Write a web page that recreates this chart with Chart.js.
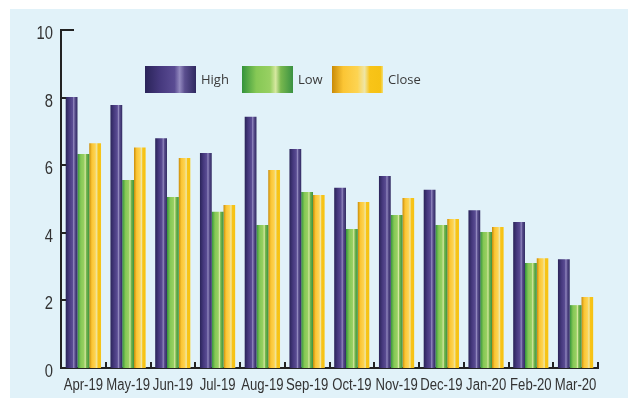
<!DOCTYPE html>
<html>
<head>
<meta charset="utf-8">
<script src="https://cdn.jsdelivr.net/npm/chart.js@4/dist/chart.umd.min.js"></script>
<style>
  html, body { margin: 0; padding: 0; background: #ffffff; }
  #wrap { width: 628px; height: 398px; position: relative; }
</style>
</head>
<body>
<div id="wrap"><canvas id="chart" width="628" height="398"></canvas></div>
<script>
// Monthly price range: high, low and close
const categories = ['Apr-19', 'May-19', 'Jun-19', 'Jul-19', 'Aug-19', 'Sep-19', 'Oct-19', 'Nov-19', 'Dec-19', 'Jan-20', 'Feb-20', 'Mar-20'];
const highValues  = [8.02, 7.78, 6.80, 6.36, 7.43, 6.48, 5.33, 5.68, 5.27, 4.67, 4.32, 3.22];
const lowValues   = [6.33, 5.56, 5.06, 4.62, 4.23, 5.21, 4.11, 4.53, 4.23, 4.02, 3.11, 1.86];
const closeValues = [6.65, 6.52, 6.21, 4.82, 5.86, 5.12, 4.91, 5.03, 4.41, 4.17, 3.25, 2.10];
const yTickValues = [0, 2, 4, 6, 8, 10];

// Cylinder-like horizontal shading for each series
const shades = {
  High:  [[0, '#2a2459'], [0.3, '#46397e'], [0.58, '#5a4c93'], [0.68, '#938abf'], [0.78, '#5a4e8e'], [1, '#2f2960']],
  Low:   [[0, '#33933b'], [0.28, '#86c855'], [0.55, '#98d062'], [0.66, '#d6e8a0'], [0.76, '#78b84e'], [1, '#3a9242']],
  Close: [[0, '#c98b08'], [0.22, '#fbc534'], [0.5, '#fdd452'], [0.64, '#efe6a6'], [0.74, '#f8c418'], [0.95, '#f6c214'], [1, '#f1df78']]
};

function shadeFill(ctx, left, right, name) {
  const g = ctx.createLinearGradient(left, 0, right, 0);
  shades[name].forEach(([o, c]) => g.addColorStop(o, c));
  return g;
}

const panelBackground = {
  id: 'panelBackground',
  beforeDraw(chart) {
    const c = chart.ctx;
    c.save();
    c.fillStyle = '#e1f2f9';
    c.fillRect(10, 9, chart.width - 10, chart.height - 9);
    c.restore();
  }
};

// Give every bar its own gradient once positions are known
const barShading = {
  id: 'barShading',
  afterDatasetsUpdate(chart) {
    chart.data.datasets.forEach((ds, i) => {
      chart.getDatasetMeta(i).data.forEach(el => {
        const left = el.x - el.width / 2;
        const right = el.x + el.width / 2;
        el.options = Object.assign({}, el.options, { backgroundColor: shadeFill(chart.ctx, left, right, ds.label) });
      });
    });
  }
};

// Inward tick marks on both axes
const axisTicks = {
  id: 'axisTicks',
  afterDraw(chart) {
    const c = chart.ctx;
    const y = chart.scales.y;
    const area = chart.chartArea;
    c.save();
    c.strokeStyle = '#222222';
    c.lineWidth = 2;
    yTickValues.forEach(v => {
      if (v === 0) return;
      const py = Math.round(y.getPixelForValue(v));
      const len = v === yTickValues[yTickValues.length - 1] ? 13 : 5;
      c.beginPath();
      c.moveTo(area.left, py);
      c.lineTo(area.left + len, py);
      c.stroke();
    });
    const step = (area.right - area.left) / categories.length;
    for (let i = 1; i <= categories.length; i++) {
      const px = Math.round(area.left + i * step);
      c.beginPath();
      c.moveTo(px, area.bottom);
      c.lineTo(px, area.bottom - 6);
      c.stroke();
    }
    c.restore();
  }
};

// Narrow (horizontally compressed) tick labels taken from the scales' own ticks
const narrowLabels = {
  id: 'narrowLabels',
  afterDraw(chart) {
    const c = chart.ctx;
    const xs = chart.scales.x, ys = chart.scales.y;
    const area = chart.chartArea;
    const squeeze = 0.82;
    c.save();
    c.fillStyle = '#333333';
    c.textBaseline = 'alphabetic';

    c.font = '16px "Liberation Sans", Arial, sans-serif';
    c.textAlign = 'center';
    xs.ticks.forEach((t, i) => {
      const px = xs.getPixelForTick(i);
      c.save();
      c.translate(px, area.bottom + 22);
      c.scale(squeeze, 1);
      c.fillText(xs.getLabelForValue(t.value), 0, 0);
      c.restore();
    });

    c.font = '18px "Liberation Sans", Arial, sans-serif';
    c.textAlign = 'right';
    ys.ticks.forEach(t => {
      const py = ys.getPixelForValue(t.value);
      c.save();
      c.translate(area.left - 8, py + 9);
      c.scale(squeeze, 1);
      c.fillText(String(t.value), 0, 0);
      c.restore();
    });
    c.restore();
  }
};

// Legend drawn inside the plot
const innerLegend = {
  id: 'innerLegend',
  afterDraw(chart) {
    const c = chart.ctx;
    const starts = [145, 242, 332];
    c.save();
    c.font = '13px "Open Sans", "Noto Sans", sans-serif';
    c.textBaseline = 'middle';
    chart.data.datasets.forEach((ds, i) => {
      const x0 = starts[i];
      const top = 66, h = 27, w = 51;
      c.fillStyle = shadeFill(c, x0, x0 + w, ds.label);
      c.fillRect(x0, top, w, h);
      c.fillStyle = '#3a3a3a';
      c.fillText(ds.label, x0 + w + 5, top + h / 2 + 1);
    });
    c.restore();
  }
};

new Chart(document.getElementById('chart'), {
  type: 'bar',
  data: {
    labels: categories,
    datasets: [
      { label: 'High',  data: highValues,  backgroundColor: '#4a3f85' },
      { label: 'Low',   data: lowValues,   backgroundColor: '#7cc050' },
      { label: 'Close', data: closeValues, backgroundColor: '#f8c828' }
    ]
  },
  options: {
    responsive: false,
    animation: false,
    events: [],
    layout: { padding: { left: 10, top: 30, right: 30, bottom: 0 } },
    datasets: {
      bar: { categoryPercentage: 0.79, barPercentage: 1.0, borderWidth: 0 }
    },
    plugins: {
      legend: { display: false },
      tooltip: { enabled: false }
    },
    scales: {
      x: {
        grid: { display: false, drawTicks: false },
        border: { display: true, color: '#222222', width: 2 },
        ticks: { display: false, autoSkip: false },
        afterFit(scale) { scale.height = 30; }
      },
      y: {
        min: 0,
        max: 10,
        grid: { display: false, drawTicks: false },
        border: { display: true, color: '#222222', width: 2 },
        ticks: { display: false, stepSize: 2 },
        afterBuildTicks(scale) { scale.ticks = yTickValues.map(v => ({ value: v })); },
        afterFit(scale) { scale.width = 51; }
      }
    }
  },
  plugins: [panelBackground, barShading, axisTicks, narrowLabels, innerLegend]
});
</script>
</body>
</html>
